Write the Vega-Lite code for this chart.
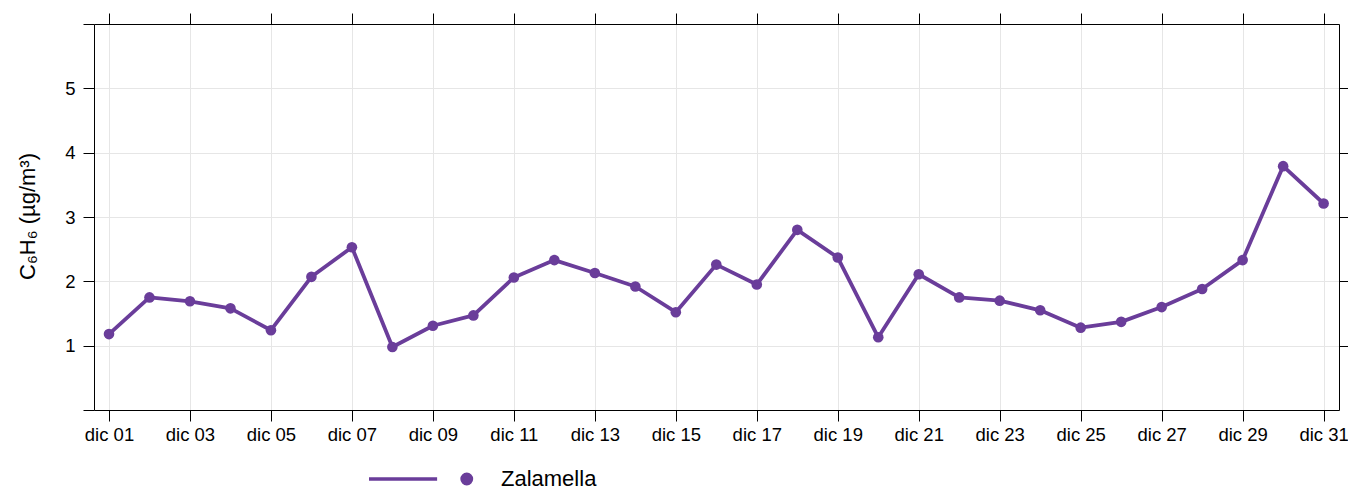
{
  "$schema": "https://vega.github.io/schema/vega-lite/v6.json",
  "width": 1245,
  "height": 386,
  "autosize": {"type": "none"},
  "padding": {"left": 94, "top": 24, "right": 9, "bottom": 80},
  "background": "white",
  "config": {
    "view": {"stroke": null},
    "font": "Liberation Sans",
    "axis": {
      "domainColor": "black",
      "domainWidth": 1,
      "tickColor": "black",
      "tickWidth": 1,
      "tickSize": 11,
      "labelColor": "black",
      "labelFont": "Liberation Sans",
      "labelFontSize": 18.5,
      "gridColor": "#e6e6e6",
      "gridWidth": 1
    }
  },
  "data": {
    "values": [
      {"date": "2023-12-01", "value": 1.18, "site": "Zalamella"},
      {"date": "2023-12-02", "value": 1.75, "site": "Zalamella"},
      {"date": "2023-12-03", "value": 1.69, "site": "Zalamella"},
      {"date": "2023-12-04", "value": 1.58, "site": "Zalamella"},
      {"date": "2023-12-05", "value": 1.24, "site": "Zalamella"},
      {"date": "2023-12-06", "value": 2.07, "site": "Zalamella"},
      {"date": "2023-12-07", "value": 2.53, "site": "Zalamella"},
      {"date": "2023-12-08", "value": 0.98, "site": "Zalamella"},
      {"date": "2023-12-09", "value": 1.31, "site": "Zalamella"},
      {"date": "2023-12-10", "value": 1.47, "site": "Zalamella"},
      {"date": "2023-12-11", "value": 2.06, "site": "Zalamella"},
      {"date": "2023-12-12", "value": 2.33, "site": "Zalamella"},
      {"date": "2023-12-13", "value": 2.13, "site": "Zalamella"},
      {"date": "2023-12-14", "value": 1.92, "site": "Zalamella"},
      {"date": "2023-12-15", "value": 1.52, "site": "Zalamella"},
      {"date": "2023-12-16", "value": 2.26, "site": "Zalamella"},
      {"date": "2023-12-17", "value": 1.95, "site": "Zalamella"},
      {"date": "2023-12-18", "value": 2.80, "site": "Zalamella"},
      {"date": "2023-12-19", "value": 2.37, "site": "Zalamella"},
      {"date": "2023-12-20", "value": 1.13, "site": "Zalamella"},
      {"date": "2023-12-21", "value": 2.11, "site": "Zalamella"},
      {"date": "2023-12-22", "value": 1.75, "site": "Zalamella"},
      {"date": "2023-12-23", "value": 1.70, "site": "Zalamella"},
      {"date": "2023-12-24", "value": 1.55, "site": "Zalamella"},
      {"date": "2023-12-25", "value": 1.28, "site": "Zalamella"},
      {"date": "2023-12-26", "value": 1.37, "site": "Zalamella"},
      {"date": "2023-12-27", "value": 1.60, "site": "Zalamella"},
      {"date": "2023-12-28", "value": 1.88, "site": "Zalamella"},
      {"date": "2023-12-29", "value": 2.33, "site": "Zalamella"},
      {"date": "2023-12-30", "value": 3.79, "site": "Zalamella"},
      {"date": "2023-12-31", "value": 3.21, "site": "Zalamella"}
    ]
  },
  "encoding": {
    "x": {
      "field": "date",
      "type": "temporal",
      "scale": {
        "type": "utc",
        "domain": [
          {"year": 2023, "month": 11, "date": 30, "hours": 15, "minutes": 7, "utc": true},
          {"year": 2023, "month": 12, "date": 31, "hours": 9, "minutes": 7, "utc": true}
        ]
      }
    },
    "y": {
      "field": "value",
      "type": "quantitative",
      "scale": {"domain": [0, 6], "nice": false, "zero": false}
    },
    "color": {
      "field": "site",
      "type": "nominal",
      "scale": {"range": ["#6a3d9a"]},
      "legend": {
        "title": null,
        "orient": "none",
        "legendX": 273,
        "legendY": 444,
        "clipHeight": 22,
        "symbolType": "M -1 0 L 0.31 0 M 0.79 0 A 0.09 0.09 0 1 0 0.97 0 A 0.09 0.09 0 1 0 0.79 0 Z",
        "symbolSize": 10816,
        "symbolStrokeWidth": 3.5,
        "symbolStrokeColor": "#6a3d9a",
        "symbolFillColor": "#6a3d9a",
        "symbolOpacity": 1,
        "labelFont": "Liberation Sans",
        "labelFontSize": 22,
        "labelColor": "black",
        "labelOffset": 26,
        "labelLimit": 400
      }
    }
  },
  "layer": [
    {
      "mark": {"type": "line", "strokeWidth": 3.8, "strokeJoin": "round"},
      "encoding": {
        "x": {
          "field": "date",
          "type": "temporal",
          "axis": {
            "orient": "bottom",
            "title": null,
            "values": [
              {"year": 2023, "month": 12, "date": 1, "utc": true},
              {"year": 2023, "month": 12, "date": 3, "utc": true},
              {"year": 2023, "month": 12, "date": 5, "utc": true},
              {"year": 2023, "month": 12, "date": 7, "utc": true},
              {"year": 2023, "month": 12, "date": 9, "utc": true},
              {"year": 2023, "month": 12, "date": 11, "utc": true},
              {"year": 2023, "month": 12, "date": 13, "utc": true},
              {"year": 2023, "month": 12, "date": 15, "utc": true},
              {"year": 2023, "month": 12, "date": 17, "utc": true},
              {"year": 2023, "month": 12, "date": 19, "utc": true},
              {"year": 2023, "month": 12, "date": 21, "utc": true},
              {"year": 2023, "month": 12, "date": 23, "utc": true},
              {"year": 2023, "month": 12, "date": 25, "utc": true},
              {"year": 2023, "month": 12, "date": 27, "utc": true},
              {"year": 2023, "month": 12, "date": 29, "utc": true},
              {"year": 2023, "month": 12, "date": 31, "utc": true}
            ],
            "labelExpr": "'dic ' + utcFormat(datum.value, '%d')",
            "labelPadding": 4,
            "labelOverlap": false,
            "labelFlush": false,
            "grid": true
          }
        },
        "y": {
          "field": "value",
          "type": "quantitative",
          "axis": {
            "orient": "left",
            "values": [0, 1, 2, 3, 4, 5, 6],
            "labelExpr": "datum.value >= 1 && datum.value <= 5 ? datum.label : ''",
            "labelPadding": 8,
            "labelFlush": false,
            "grid": true,
            "title": "C₆H₆ (µg/m³)",
            "titleFont": "Liberation Sans",
            "titleFontSize": 22,
            "titleFontWeight": "normal",
            "titleColor": "black",
            "titleX": -67,
            "titleY": 192,
            "titleAlign": "center",
            "titleBaseline": "middle",
            "titleAngle": -90
          }
        }
      }
    },
    {
      "mark": {"type": "point", "filled": true, "size": 113, "opacity": 1},
      "encoding": {
        "x": {
          "field": "date",
          "type": "temporal",
          "axis": {
            "orient": "top",
            "title": null,
            "labels": false,
            "grid": false,
            "values": [
              {"year": 2023, "month": 12, "date": 1, "utc": true},
              {"year": 2023, "month": 12, "date": 3, "utc": true},
              {"year": 2023, "month": 12, "date": 5, "utc": true},
              {"year": 2023, "month": 12, "date": 7, "utc": true},
              {"year": 2023, "month": 12, "date": 9, "utc": true},
              {"year": 2023, "month": 12, "date": 11, "utc": true},
              {"year": 2023, "month": 12, "date": 13, "utc": true},
              {"year": 2023, "month": 12, "date": 15, "utc": true},
              {"year": 2023, "month": 12, "date": 17, "utc": true},
              {"year": 2023, "month": 12, "date": 19, "utc": true},
              {"year": 2023, "month": 12, "date": 21, "utc": true},
              {"year": 2023, "month": 12, "date": 23, "utc": true},
              {"year": 2023, "month": 12, "date": 25, "utc": true},
              {"year": 2023, "month": 12, "date": 27, "utc": true},
              {"year": 2023, "month": 12, "date": 29, "utc": true},
              {"year": 2023, "month": 12, "date": 31, "utc": true}
            ]
          }
        },
        "y": {
          "field": "value",
          "type": "quantitative",
          "axis": {
            "orient": "right",
            "title": null,
            "labels": false,
            "grid": false,
            "values": [1, 2, 3, 4, 5]
          }
        }
      }
    }
  ],
  "resolve": {"axis": {"x": "independent", "y": "independent"}}
}
